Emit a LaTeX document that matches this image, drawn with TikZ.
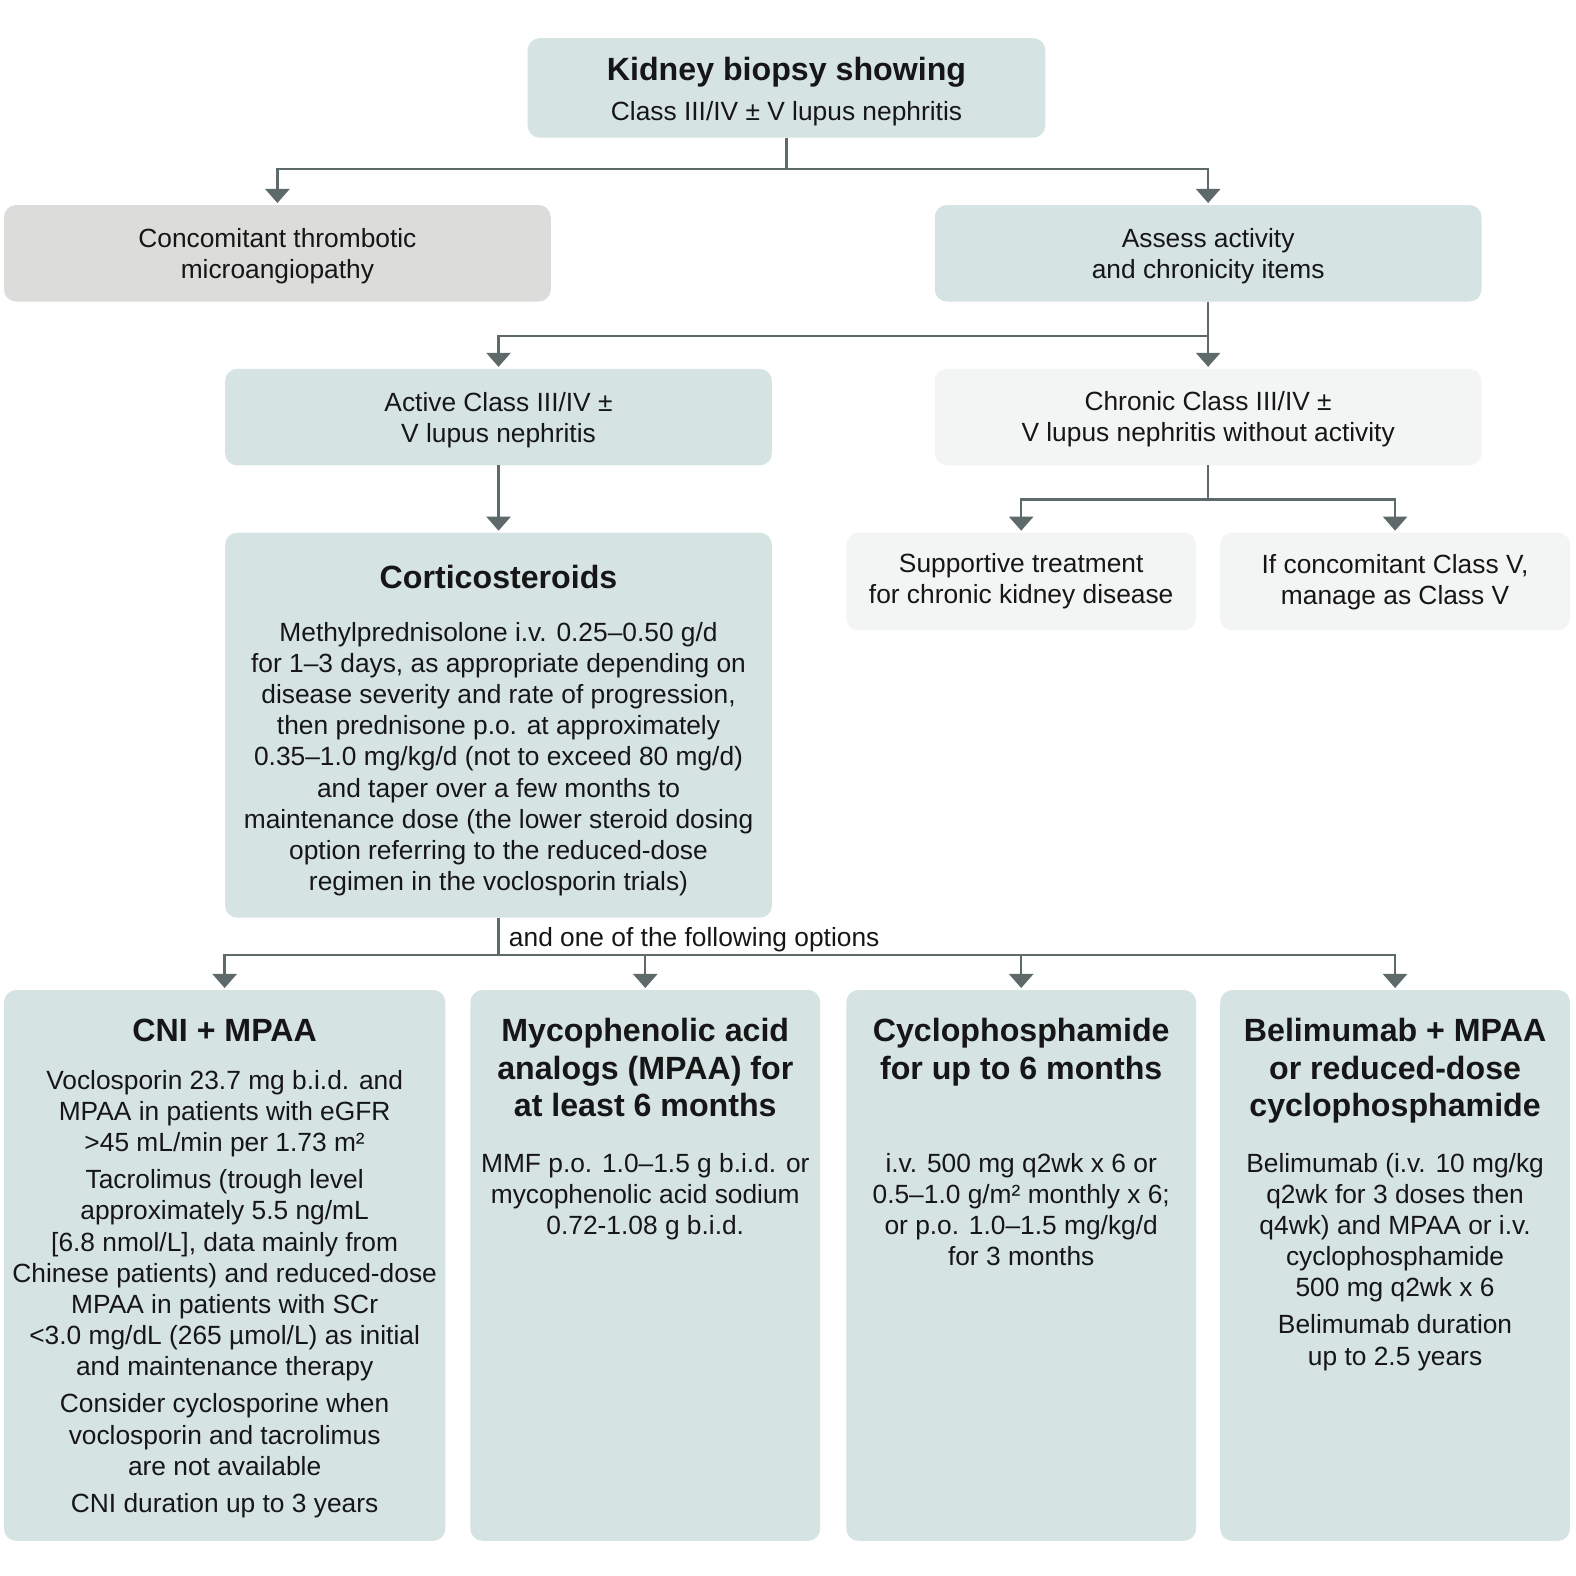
\documentclass[tikz,border=0pt]{standalone}
\usepackage{fontspec}
\setmainfont{Liberation Sans}
\usetikzlibrary{arrows.meta}
\definecolor{boxblue}{HTML}{D6E3E3}
\definecolor{boxgray}{HTML}{DCDDDA}
\definecolor{boxlight}{HTML}{F3F4F4}
\definecolor{linec}{HTML}{5E6A6A}
\definecolor{ink}{HTML}{161616}
\newcommand\hdfont{\fontsize{16}{18.5}\selectfont\bfseries}
\newcommand\bdfont{\fontsize{13.1}{15.5}\selectfont}
\tikzset{
  box/.style={rounded corners=6pt, inner sep=0pt, outer sep=0pt, draw=none},
  bluebox/.style={box, fill=boxblue},
  graybox/.style={box, fill=boxgray},
  lightbox/.style={box, fill=boxlight},
  wide/.style={minimum width=272pt, minimum height=48pt},
  narrow/.style={minimum width=174pt},
  txt/.style={align=center, inner sep=0pt, anchor=north, font=\bdfont, text=ink},
  conn/.style={draw=linec, line width=1.2pt},
  arr/.style={conn, -{Triangle[width=12pt,length=7pt]}, shorten >=1pt},
}
\begin{document}
\begin{tikzpicture}[x=0.5pt,y=-0.5pt]
\useasboundingbox (0,0) rectangle (1568,1568);
% boxes
\node[bluebox, minimum width=257.5pt, minimum height=49.5pt] (top) at (782.5,87.5) {};
\node[graybox, wide] (conc) at (276,252) {};
\node[bluebox, wide] (assess) at (1202,252) {};
\node[bluebox, wide] (active) at (496,415) {};
\node[lightbox, wide] (chronic) at (1202,415) {};
\node[lightbox, narrow, minimum height=48.5pt] (supp) at (1016,578.5) {};
\node[lightbox, narrow, minimum height=48.5pt] (ifcv) at (1388,578.5) {};
\node[bluebox, minimum width=272pt, minimum height=191.5pt] (cortico) at (496,721.5) {};
\node[bluebox, minimum width=219.5pt, minimum height=274pt] (cni) at (223.5,1259) {};
\node[bluebox, narrow, minimum height=274pt] (mpaa) at (642,1259) {};
\node[bluebox, narrow, minimum height=274pt] (cyclo) at (1016,1259) {};
\node[bluebox, narrow, minimum height=274pt] (belim) at (1388,1259) {};
% texts
\node[txt] (topT) at (782.5,57) {{\hdfont Kidney biopsy showing}\\[4pt]Class III/IV ± V lupus nephritis};
\node[txt] (concT) at (276,227) {Concomitant thrombotic\\microangiopathy};
\node[txt] (assessT) at (1202,227) {Assess activity\\and chronicity items};
\node[txt] (activeT) at (496,390) {Active Class III/IV ±\\V lupus nephritis};
\node[txt] (chronicT) at (1202,389) {Chronic Class III/IV ±\\V lupus nephritis without activity};
\node[txt] (suppT) at (1016,550) {Supportive treatment\\for chronic kidney disease};
\node[txt] (ifcvT) at (1388,551) {If concomitant Class V,\\manage as Class V};
\node[txt] (corticoT) at (496,562) {{\hdfont Corticosteroids}\\[10.75pt]Methylprednisolone i.v. 0.25–0.50 g/d\\for 1–3 days, as appropriate depending on\\disease severity and rate of progression,\\then prednisone p.o. at approximately\\0.35–1.0 mg/kg/d (not to exceed 80 mg/d)\\and taper over a few months to\\maintenance dose (the lower steroid dosing\\option referring to the reduced-dose\\regimen in the voclosporin trials)};
\node[txt] (cniT) at (223.5,1013) {{\hdfont CNI + MPAA}\\[8.5pt]Voclosporin 23.7 mg b.i.d. and\\MPAA in patients with eGFR\\>45 mL/min per 1.73 m²\\[3pt]Tacrolimus (trough level\\approximately 5.5 ng/mL\\{[}6.8 nmol/L], data mainly from\\Chinese patients) and reduced-dose\\MPAA in patients with SCr\\<3.0 mg/dL (265 µmol/L) as initial\\and maintenance therapy\\[3pt]Consider cyclosporine when\\voclosporin and tacrolimus\\are not available\\[3pt]CNI duration up to 3 years};
\node[txt] (mpaaT) at (642,1013) {{\hdfont Mycophenolic acid}\\[3pt]{\hdfont analogs (MPAA) for}\\[3pt]{\hdfont at least 6 months}\\[12.25pt]MMF p.o. 1.0–1.5 g b.i.d. or\\mycophenolic acid sodium\\0.72-1.08 g b.i.d.};
\node[txt] (cycloT) at (1016,1013) {{\hdfont Cyclophosphamide}\\[3pt]{\hdfont for up to 6 months}\\[30.75pt]i.v. 500 mg q2wk x 6 or\\0.5–1.0 g/m² monthly x 6;\\or p.o. 1.0–1.5 mg/kg/d\\for 3 months};
\node[txt] (belimT) at (1388,1013) {{\hdfont Belimumab + MPAA}\\[3pt]{\hdfont or reduced-dose}\\[3pt]{\hdfont cyclophosphamide}\\[12.25pt]Belimumab (i.v. 10 mg/kg\\q2wk for 3 doses then\\q4wk) and MPAA or i.v.\\cyclophosphamide\\500 mg q2wk x 6\\[3pt]Belimumab duration\\up to 2.5 years};
% junctions
\coordinate (j1) at (782.5,168);
\coordinate (j2) at (1202,334);
\coordinate (j3) at (1202,497);
\coordinate (j4) at (496,950);
% connectors
\draw[conn] (top.south) -- (j1);
\draw[arr] (j1) -| (conc.north);
\draw[arr] (j1) -| (assess.north);
\draw[arr] (assess.south) -- (chronic.north);
\draw[arr] (j2) -| (active.north);
\draw[arr] (active.south) -- (cortico.north);
\draw[conn] (chronic.south) -- (j3);
\draw[arr] (j3) -| (supp.north);
\draw[arr] (j3) -| (ifcv.north);
\draw[conn] (cortico.south) -- (j4);
\draw[arr] (j4) -| (cni.north);
\draw[arr] (j4) -| (mpaa.north);
\draw[arr] (j4) -| (cyclo.north);
\draw[arr] (j4) -| (belim.north);
\node[anchor=base west, inner sep=0pt, font=\bdfont, text=ink] (opts) at (506,942) {and one of the following options};
\end{tikzpicture}
\end{document}
